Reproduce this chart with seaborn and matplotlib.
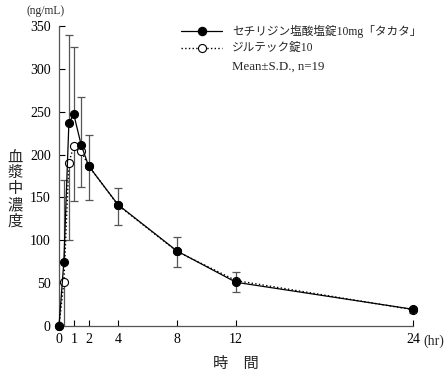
import numpy as np
import pandas as pd
import matplotlib
matplotlib.use("Agg")
import matplotlib.pyplot as plt
import seaborn as sns
from matplotlib.lines import Line2D

sns.set_theme(style="white")
plt.rcParams['font.family'] = ['Liberation Serif', 'Noto Sans CJK JP']

time_hr = [0, 0.33, 0.67, 1, 1.5, 2, 4, 8, 12, 24]
test_mean = [0, 75, 236.5, 247, 211.5, 187, 141.5, 87.5, 51, 19.5]
test_sd = [0, 95, 103, 78, 55.5, 36, 19, 16.5, 12, 3]
ref_mean = [0, 51, 190.5, 210, 204, 187, 141, 87, 53, 19]
ref_sd = [0, 60, 90, 64, 42, 40, 23, 18, 13, 4]
test_name = "セチリジン塩酸塩錠10mg「タカタ」"
ref_name = "ジルテック錠10"
stat_note = "Mean±S.D., n=19"
x_ticks = [0, 1, 2, 4, 8, 12, 24]
y_ticks = [0, 50, 100, 150, 200, 250, 300, 350]

W, H = 448, 376
df_test = pd.DataFrame({"time": time_hr, "conc": test_mean})
df_ref = pd.DataFrame({"time": time_hr, "conc": ref_mean})

fig = plt.figure(figsize=(W / 100, H / 100), dpi=100)
ax = fig.add_axes([59 / W, 1 - 326 / H, (413 - 59) / W, 300 / H])

# error bars: test upward, reference downward
ax.errorbar(time_hr, test_mean, yerr=[np.zeros(len(test_sd)), test_sd], fmt='none',
            ecolor='#555555', elinewidth=0.9, capsize=3, capthick=0.9, zorder=1)
ax.errorbar(time_hr, ref_mean, yerr=[ref_sd, np.zeros(len(ref_sd))], fmt='none',
            ecolor='#555555', elinewidth=0.9, capsize=3, capthick=0.9, zorder=1)

sns.lineplot(data=df_ref, x="time", y="conc", ax=ax, color='black', linestyle=':',
             linewidth=1.0, marker='o', markersize=5.8, markerfacecolor='white',
             markeredgecolor='black', markeredgewidth=0.8, clip_on=False, zorder=3)
sns.lineplot(data=df_test, x="time", y="conc", ax=ax, color='black', linestyle='-',
             linewidth=0.9, marker='o', markersize=5.8, markerfacecolor='black',
             markeredgecolor='black', clip_on=False, zorder=4)

ax.set_xlim(0, 24)
ax.set_ylim(0, 350)
ax.set_xticks(x_ticks)
ax.set_xticklabels([str(v) for v in x_ticks])
ax.set_yticks(y_ticks)
ax.set_yticklabels([str(v) for v in y_ticks])
ax.tick_params(axis='both', direction='in', length=4, width=0.8, colors='black',
               labelsize=10, bottom=True, left=True)
ax.tick_params(axis='y', pad=6)
ax.tick_params(axis='x', pad=5)
for s in ['top', 'right']:
    ax.spines[s].set_visible(False)
for s in ['left', 'bottom']:
    ax.spines[s].set_color('#555555')
    ax.spines[s].set_linewidth(0.9)
ax.set_xlabel("")
ax.set_ylabel("")
ax.grid(False)


def fx(px):
    return px / W


def fy(py):
    return 1 - py / H


fig.text(fx(423), fy(341), "(hr)", fontsize=10, ha='left', va='center')
fig.text(fx(26), fy(11), "(ng/mL)", fontsize=8.3, ha='left', va='center')
fig.text(fx(236), fy(364), "時　間", fontsize=11, ha='center', va='center')
fig.text(fx(15), fy(190), "\n".join("血漿中濃度"), fontsize=11, ha='center', va='center',
         linespacing=1.15)

# legend drawn manually
fig.add_artist(Line2D([fx(181), fx(222)], [fy(31), fy(31)], color='black', lw=0.9))
fig.add_artist(Line2D([fx(201.5)], [fy(31)], marker='o', markersize=5.8, color='black',
                      markerfacecolor='black', linestyle='none'))
fig.add_artist(Line2D([fx(181), fx(222)], [fy(48), fy(48)], color='black', lw=1.0,
                      linestyle=':'))
fig.add_artist(Line2D([fx(201.5)], [fy(48)], marker='o', markersize=5.8, color='black',
                      markerfacecolor='white', markeredgewidth=0.8, linestyle='none'))
fig.text(fx(232), fy(31), test_name, fontsize=8.4, ha='left', va='center')
fig.text(fx(232), fy(48), ref_name, fontsize=8.4, ha='left', va='center')
fig.text(fx(232), fy(67), stat_note, fontsize=9.3, ha='left', va='center')

fig.savefig("out.png", dpi=100)
